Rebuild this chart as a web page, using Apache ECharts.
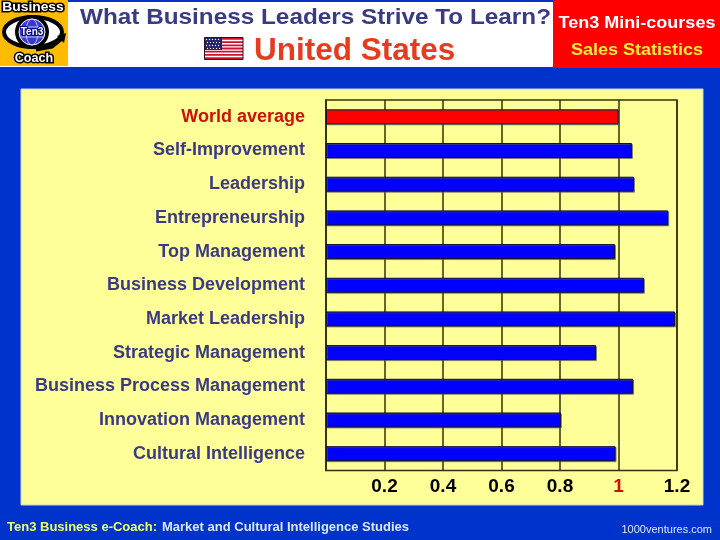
<!DOCTYPE html>
<html>
<head>
<meta charset="utf-8">
<style>
    html, body { margin: 0; padding: 0; background: #0033cc; }
    #main { width: 720px; height: 540px; }
</style>
<script src="https://cdn.jsdelivr.net/npm/echarts@6/dist/echarts.min.js"></script>
</head>
<body>
<div id="main"></div>
<script>
// 数据
const categories = ['World average', 'Self-Improvement', 'Leadership', 'Entrepreneurship', 'Top Management',
    'Business Development', 'Market Leadership', 'Strategic Management', 'Business Process Management',
    'Innovation Management', 'Cultural Intelligence'];
const values = [1, 1.046, 1.053, 1.17, 0.988, 1.087, 1.193, 0.923, 1.05, 0.803, 0.99];
const tickLabels = ['', '0.2', '0.4', '0.6', '0.8', '1', '1.2'];

const font = '"Liberation Sans", Arial, sans-serif';
const navy = '#3a3a85';
const red = '#ff0000';

// flag stripes
const flag = [];
for (let i = 0; i < 7; i++) {
    flag.push({ type: 'rect', z: 3, shape: { x: 205, y: 38 + i * 3.2, width: 38, height: 1.8 }, style: { fill: '#d01030' } });
}
flag.push({ type: 'rect', z: 3, shape: { x: 205, y: 38, width: 17, height: 12 }, style: { fill: '#20206a' } });
for (let r = 0; r < 4; r++) {
    for (let c = 0; c < 5; c++) {
        flag.push({ type: 'circle', z: 3, shape: { cx: 206.5 + c * 3 + (r % 2), cy: 39.5 + r * 3, r: 0.7 }, style: { fill: '#fff' } });
    }
}
flag.push({ type: 'rect', z: 3, shape: { x: 204.5, y: 37.5, width: 38.5, height: 22 }, style: { fill: 'none', stroke: '#301020', lineWidth: 1 } });

// globe of the logo
const globe = [
    { type: 'circle', z: 2, shape: { cx: 32, cy: 32, r: 17 }, style: { fill: '#000' } },
    { type: 'circle', z: 2, shape: { cx: 32, cy: 32, r: 13 }, style: { fill: '#3a3ad0', stroke: '#fff', lineWidth: 1 } },
    { type: 'ellipse', z: 2, shape: { cx: 32, cy: 32, rx: 6, ry: 13 }, style: { fill: 'none', stroke: '#c0c8ff', lineWidth: 1 } },
    { type: 'line', z: 2, shape: { x1: 20, y1: 27, x2: 44, y2: 27 }, style: { stroke: '#c0c8ff', lineWidth: 1 } },
    { type: 'line', z: 2, shape: { x1: 20, y1: 37, x2: 44, y2: 37 }, style: { stroke: '#c0c8ff', lineWidth: 1 } },
    { type: 'polyline', z: 2, shape: { points: [[36, 50], [52, 47], [62, 39]] }, style: { fill: 'none', stroke: '#000', lineWidth: 3 } },
    { type: 'polygon', z: 2, shape: { points: [[57, 36], [66, 33], [64, 43]] }, style: { fill: '#000' } }
];

// text stretched horizontally, the reference has wider letters than the font
function wideText(x, y, text, fill, fontStr, scale, align, stroke) {
    return {
        type: 'text', z: 3, x: x, y: y, scaleX: scale,
        style: { x: 0, y: 0, text: text, fill: fill, font: fontStr, align: align || 'left', verticalAlign: 'middle', stroke: stroke, lineWidth: stroke ? 3 : 0 }
    };
}

const chart = echarts.init(document.getElementById('main'), null, { renderer: 'canvas' });

chart.setOption({
    backgroundColor: '#0033cc',
    animation: false,
    graphic: {
        elements: [
            { type: 'rect', z: -1, shape: { x: 0, y: 2, width: 720, height: 65 }, style: { fill: '#fff' } },
            { type: 'rect', z: -1, shape: { x: 553, y: 0, width: 167, height: 68 }, style: { fill: '#ff0000' } },
            { type: 'rect', z: -1, shape: { x: 21, y: 89, width: 682, height: 416 }, style: { fill: '#ffff99', stroke: '#c8d0d8', lineWidth: 1 } },
            // logo
            { type: 'rect', z: 1, shape: { x: 0, y: 0, width: 68, height: 66 }, style: { fill: '#ffbb00' } },
            { type: 'ellipse', z: 1, shape: { cx: 33, cy: 32, rx: 29, ry: 15 }, style: { fill: '#fff', stroke: '#000', lineWidth: 4 } },
            { type: 'group', children: globe },
            { type: 'text', z: 3, style: { x: 32, y: 32, text: 'Ten3', fill: '#fff', font: 'bold 10px ' + font, align: 'center', verticalAlign: 'middle', stroke: '#000080', lineWidth: 2 } },
            wideText(33, 8, 'Business', '#fff', 'bold 12px ' + font, 1.15, 'center', '#000'),
            wideText(34, 59, 'Coach', '#fff', 'bold 12px ' + font, 1.05, 'center', '#000'),
            // titles
            wideText(80, 18, 'What Business Leaders Strive To Learn?', navy, 'bold 22px ' + font, 1.105),
            { type: 'text', z: 3, style: { x: 254, y: 51, text: 'United States', fill: '#e63c1e', font: 'bold 31.5px ' + font, verticalAlign: 'middle' } },
            wideText(637, 23, 'Ten3 Mini-courses', '#fff', 'bold 17px ' + font, 1.06, 'center'),
            wideText(637, 50, 'Sales Statistics', '#ffee33', 'bold 17px ' + font, 1.06, 'center'),
            { type: 'group', children: flag },
            // footer
            { type: 'text', z: 3, style: { x: 7, y: 527, text: 'Ten3 Business e-Coach:', fill: '#eeff66', font: 'bold 13px ' + font, verticalAlign: 'middle' } },
            { type: 'text', z: 3, style: { x: 162, y: 527, text: 'Market and Cultural Intelligence Studies', fill: '#d8e8ff', font: 'bold 13px ' + font, verticalAlign: 'middle' } },
            { type: 'text', z: 3, style: { x: 712, y: 530, text: '1000ventures.com', fill: '#d8e8ff', font: '11px ' + font, align: 'right', verticalAlign: 'middle' } }
        ]
    },
    grid: { left: 326, top: 100, width: 351, height: 370.5, show: true, borderColor: '#333300', borderWidth: 1.5 },
    xAxis: {
        type: 'value',
        min: 0,
        max: 1.2,
        interval: 0.2,
        axisLine: { show: false },
        axisTick: { show: false },
        splitLine: { show: true, lineStyle: { color: '#333300', width: 1.5 } },
        axisLabel: {
            margin: 7,
            fontFamily: font,
            fontSize: 19,
            fontWeight: 'bold',
            color: function (v) { return Math.abs(v - 1) < 0.001 ? '#cc1100' : '#000'; },
            formatter: function (v) { return tickLabels[Math.round(v / 0.2)]; }
        }
    },
    yAxis: {
        type: 'category',
        inverse: true,
        data: categories,
        axisLine: { show: true, lineStyle: { color: '#333300', width: 1.5 } },
        axisTick: { show: false },
        axisLabel: {
            margin: 21,
            fontFamily: font,
            fontSize: 18,
            fontWeight: 'bold',
            color: function (v) { return v === 'World average' ? '#cc1100' : navy; }
        }
    },
    series: [{
        type: 'bar',
        barWidth: 15,
        z: 5,
        data: values.map(function (v, i) {
            return { value: v, itemStyle: { color: i === 0 ? red : '#0000ff' } };
        }),
        itemStyle: { borderColor: '#111133', borderWidth: 1, shadowColor: 'rgba(80,80,80,0.6)', shadowOffsetY: 1, shadowOffsetX: 1 }
    }]
});
</script>
</body>
</html>
